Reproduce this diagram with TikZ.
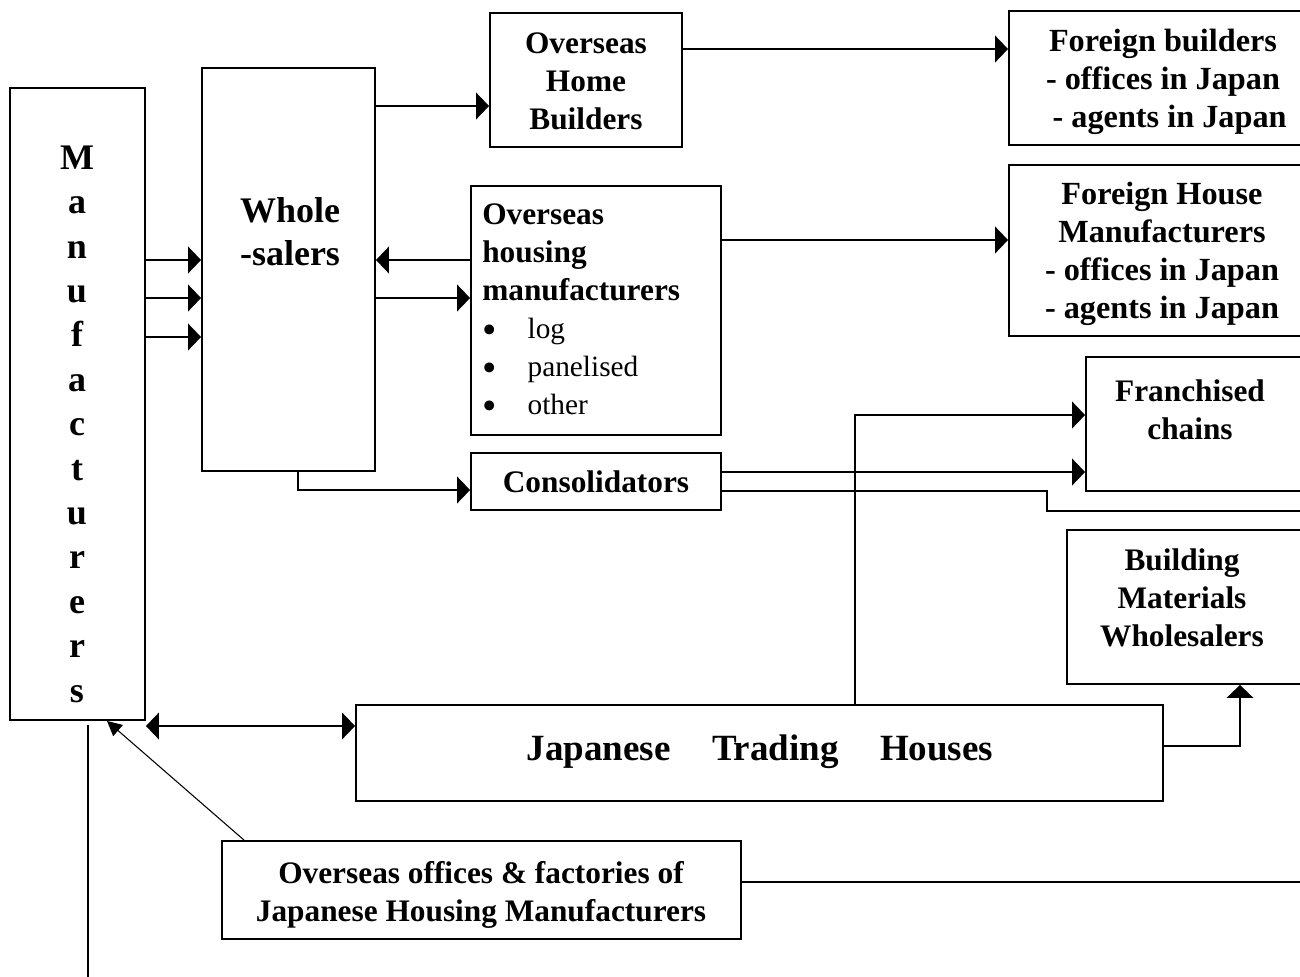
\documentclass[tikz,border=0pt]{standalone}
\usepackage{fontspec}
\setmainfont{Liberation Serif}
\usetikzlibrary{arrows.meta,fit}
\newcommand\bigdot{\smash{\raisebox{-4.3pt}{\scalebox{1.4}{\textbullet}}}}
\begin{document}
\begin{tikzpicture}[x=0.75pt,y=-0.75pt,
  box/.style={draw, line width=1.4pt, inner sep=0pt},
  txt/.style={font=\fontsize{23.5pt}{28.5pt}\selectfont\bfseries, align=center, inner sep=0pt},
  wide/.style={font=\fontsize{24.2pt}{28.5pt}\selectfont\bfseries, align=center, inner sep=0pt},
  big/.style={font=\fontsize{27pt}{32pt}\selectfont\bfseries, align=center, inner sep=0pt},
  conn/.style={line width=1.3pt, -{Triangle[length=9.75pt,width=20pt]}},
  plain/.style={line width=1.3pt},
]
\useasboundingbox (0,0) rectangle (1300,976);

% boxes
\node[box, fit={(10,88) (145,720)}] (man) {};
\node[box, fit={(202,68) (375,471)}] (whole) {};
\node[box, fit={(490,13) (682,147)}] (ohb) {};
\node[box, fit={(1009,11) (1320,145)}] (fb) {};
\node[box, fit={(1009,165) (1320,336)}] (fhm) {};
\node[box, fit={(471,186) (721,435)}] (ohm) {};
\node[box, fit={(1086,357) (1320,491)}] (fc) {};
\node[box, fit={(471,453) (721,510)}] (cons) {};
\node[box, fit={(1067,530) (1320,684)}] (bmw) {};
\node[box, fit={(356,705) (1163,801)}] (jth) {};
\node[box, fit={(222,841) (741,939)}] (oof) {};

% texts
\node[big, font=\fontsize{27pt}{33.3pt}\selectfont\bfseries] (mant) at (77,424)
  {M\\a\\n\\u\\f\\a\\c\\t\\u\\r\\e\\r\\s};
\node[big] (wholet) at (290,232) {Whole\\-salers};
\node[txt] (ohbt) at (586,81) {Overseas\\Home\\Builders};
\node[wide] (fbt) at (1163,82) {Foreign builders\\- offices in Japan\\\hspace*{10pt}- agents in Japan};
\node[wide] (fhmt) at (1162,254) {Foreign House\\Manufacturers\\- offices in Japan\\- agents in Japan};
\node[txt, align=left, anchor=north west] (ohmt) at (482,203)
  {Overseas\\housing\\manufacturers\\
   {\mdseries\fontsize{22pt}{28.5pt}\selectfont\hbox to 34pt{\bigdot\hfil}log}\\
   {\mdseries\fontsize{22pt}{28.5pt}\selectfont\hbox to 34pt{\bigdot\hfil}panelised}\\
   {\mdseries\fontsize{22pt}{28.5pt}\selectfont\hbox to 34pt{\bigdot\hfil}other}};
\node[txt] (fct) at (1190,410) {Franchised\\chains};
\node[txt] (const) at (596,482) {Consolidators};
\node[txt] (bmwt) at (1182,598) {Building\\Materials\\Wholesalers};
\node[big, font=\fontsize{27.75pt}{33pt}\selectfont\bfseries] (jtht) at (760,752)
  {Japanese\hspace{31pt}Trading\hspace{31pt}Houses};
\node[txt] (ooft) at (481,895) {Overseas offices \& factories of\\Japanese Housing Manufacturers};

% free ends
\coordinate (edgeA) at (1310,511);
\coordinate (edgeB) at (1310,882);
\coordinate (bot) at (88,980);

% connectors
\draw[conn] (man.east |- 0,260) -- (whole.west |- 0,260);
\draw[conn] (man.east |- 0,298) -- (whole.west |- 0,298);
\draw[conn] (man.east |- 0,337) -- (whole.west |- 0,337);
\draw[conn] (whole.east |- 0,106) -- (ohb.west |- 0,106);
\draw[conn] (ohm.west |- 0,260) -- (whole.east |- 0,260);
\draw[conn] (whole.east |- 0,298) -- (ohm.west |- 0,298);
\draw[conn] (ohb.east |- 0,49) -- (fb.west |- 0,49);
\draw[conn] (ohm.east |- 0,240) -- (fhm.west |- 0,240);
\draw[conn] (whole.south -| 298,0) |- (cons.west |- 0,490);
\draw[conn] (cons.east |- 0,472) -- (fc.west |- 0,472);
\draw[plain] (cons.east |- 0,491) -- (1047,491) -- (1047,511) -- (edgeA);
\draw[conn] (jth.north -| 855,0) |- (fc.west |- 0,415);
\draw[conn] (jth.east |- 0,746) -| (bmw.south -| 1240,0);
\draw[line width=1.3pt, {Triangle[length=9.75pt,width=20pt]}-{Triangle[length=9.75pt,width=20pt]}]
  (man.east |- 0,726) -- (jth.west |- 0,726);
\draw[line width=0.8pt, -{Triangle[length=11pt,width=11pt]}] (oof.north -| 244,0) -- (man.south -| 107,0);
\draw[plain, shorten <=3pt] (man.south -| 88,0) -- (bot);
\draw[plain] (oof.east |- 0,882) -- (edgeB);
\end{tikzpicture}
\end{document}
